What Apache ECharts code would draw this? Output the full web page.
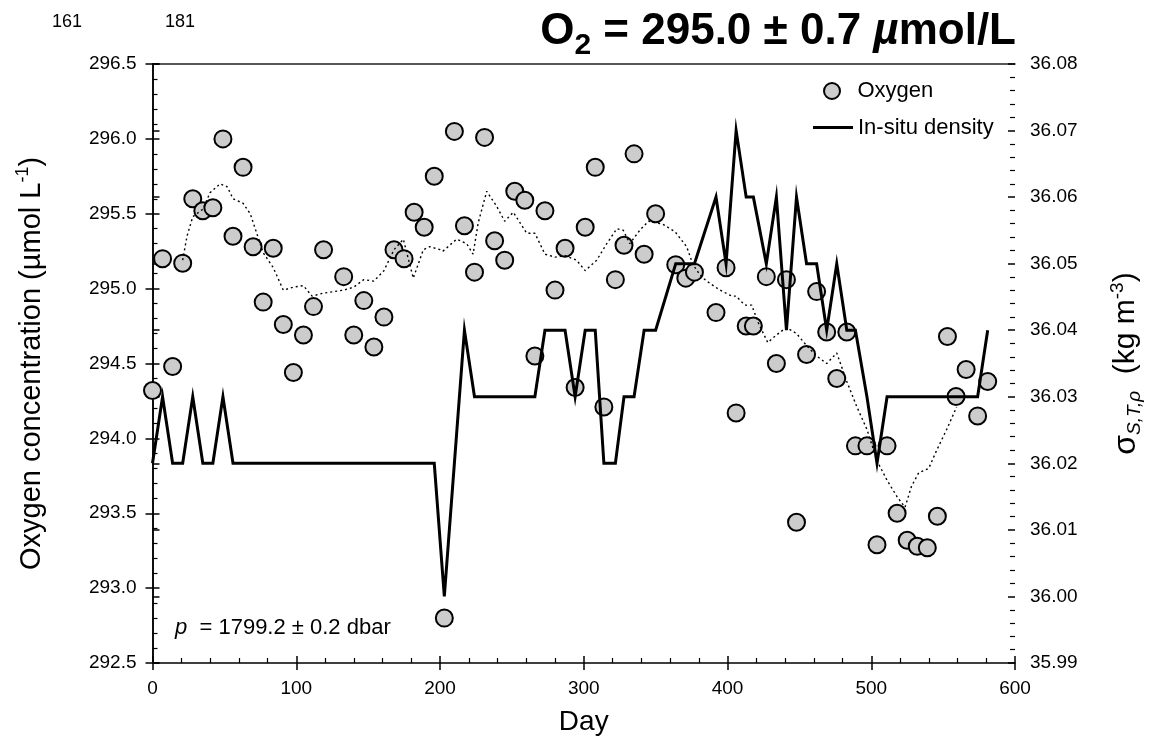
<!DOCTYPE html>
<html><head><meta charset="utf-8">
<script src="https://cdn.jsdelivr.net/npm/echarts@6/dist/echarts.min.js"></script>
<style>html,body{margin:0;padding:0;background:#fff}#c{width:1155px;height:747px}</style>
</head><body><div id="c"></div>
<script>
const FONT = '"Liberation Sans", Arial, sans-serif';

// Sampling days (shared by oxygen and density)
const days = [0,7,14,21,28,35,42,49,56,63,70,77,84,91,98,105,112,119,133,140,147,154,161,168,175,182,189,196,
  203,210,217,224,231,238,245,252,259,266,273,280,287,294,301,308,314,322,328,335,342,350,364,371,377,392,399,
  406,413,418,427,434,441,448,455,462,469,476,483,489,497,504,511,518,525,532,539,546,553,559,566,574,581];

// Oxygen concentration (µmol/L)
const oxygen = [294.32,295.20,294.48,295.17,295.60,295.52,295.54,296.00,295.35,295.81,295.28,294.91,295.27,294.76,294.44,294.69,294.88,295.26,295.08,294.69,294.92,294.61,294.81,295.26,295.20,295.51,295.41,295.75,
  292.80,296.05,295.42,295.11,296.01,295.32,295.19,295.65,295.59,294.55,295.52,294.99,295.27,294.34,295.41,295.81,294.21,295.06,295.29,295.90,295.23,295.50,295.16,295.07,295.11,294.84,295.14,
  294.17,294.75,294.75,295.08,294.50,295.06,293.44,294.56,294.98,294.71,294.40,294.71,293.95,293.95,293.29,293.95,293.50,293.32,293.28,293.27,293.48,294.68,294.28,294.46,294.15,294.38];

// In-situ density sigma (kg m^-3)
const density = [36.02,36.03,36.02,36.02,36.03,36.02,36.02,36.03,36.02,36.02,36.02,36.02,36.02,36.02,36.02,36.02,36.02,36.02,36.02,36.02,36.02,36.02,36.02,36.02,36.02,36.02,36.02,36.02,
  36.00,36.02,36.04,36.03,36.03,36.03,36.03,36.03,36.03,36.03,36.04,36.04,36.04,36.03,36.04,36.04,36.02,36.02,36.03,36.03,36.04,36.04,36.05,36.05,36.05,36.06,36.05,
  36.07,36.06,36.06,36.05,36.06,36.04,36.06,36.05,36.05,36.04,36.05,36.04,36.04,36.03,36.02,36.03,36.03,36.03,36.03,36.03,36.03,36.03,36.03,36.03,36.03,36.04];

// Smoothed oxygen (dotted line)
const smoothDays = [21,24,28,35,40,47,52,56,63,68,72.5,77,84,91,98,105,111,119,133,140,147,154,161,168,174.5,181.4,188.4,193,200,202,211.6,218.6,223,226.6,232.5,239.4,245,251,260.3,266,273,280,287,295,301,309,316,323,327.5,332,339,345,355,363.5,371.6,376,381,385.5,394.8,403,406,412,416.8,421.5,428,434,441,448,455,462,469,476,483,490,497,504,511,518,523.5,528,533,540,545.5,552.5,559.4];
const smoothOxygen = [295.19,295.35,295.48,295.53,295.64,295.70,295.68,295.60,295.57,295.50,295.37,295.24,295.14,294.99,295.01,295.02,294.95,294.97,294.99,295.01,295.06,295.05,295.12,295.26,295.33,295.07,295.26,295.28,295.26,295.25,295.33,295.30,295.23,295.44,295.65,295.55,295.45,295.51,295.37,295.37,295.23,295.21,295.22,295.19,295.12,295.19,295.30,295.40,295.39,295.30,295.39,295.45,295.43,295.38,295.28,295.16,295.09,295.05,294.99,294.95,294.95,294.89,294.89,294.77,294.64,294.69,294.74,294.70,294.62,294.55,294.50,294.57,294.38,294.21,294.06,293.85,293.72,293.61,293.54,293.68,293.77,293.80,293.92,294.06,294.21];

// Axis ranges
const xRange = {min: 0, max: 600, interval: 100};
const yLeftRange = {min: 292.5, max: 296.5, interval: 0.5};
const yRightRange = {min: 35.99, max: 36.08, interval: 0.01};

const pair = (xs, ys) => xs.map((x, i) => [x, ys[i]]);

const chart = echarts.init(document.getElementById('c'), null, {renderer: 'canvas'});
const black = '#000';
const tickFont = {fontFamily: FONT, fontSize: 19, color: black};

function baseX(extra) {
  return Object.assign({type: 'value', min: xRange.min, max: xRange.max, interval: xRange.interval, splitLine: {show: false}}, extra);
}
function baseYL(extra) {
  return Object.assign({type: 'value', min: yLeftRange.min, max: yLeftRange.max, interval: yLeftRange.interval, splitLine: {show: false}}, extra);
}
function baseYR(extra) {
  return Object.assign({type: 'value', min: yRightRange.min, max: yRightRange.max, interval: yRightRange.interval, splitLine: {show: false}}, extra);
}

chart.setOption({
  animation: false,
  backgroundColor: '#fff',
  title: {
    text: '{a|O}{s|2}{a| = 295.0 ± 0.7 }{i|µ}{a|mol/L}',
    right: 134, top: -2,
    textStyle: {
      rich: {
        a: {fontFamily: FONT, fontSize: 44, fontWeight: 'bold', color: black, lineHeight: 58, verticalAlign: 'middle'},
        i: {fontFamily: FONT, fontSize: 44, fontWeight: 'bold', fontStyle: 'italic', color: black, lineHeight: 58, verticalAlign: 'middle'},
        s: {fontFamily: FONT, fontSize: 30, fontWeight: 'bold', color: black, verticalAlign: 'bottom', lineHeight: 30}
      }
    }
  },
  grid: {left: 152.5, right: 140, top: 64, bottom: 84, outerBoundsMode: 'none', containLabel: false},
  legend: [
    {data: [{name: 'Oxygen', icon: 'circle'}], orient: 'vertical', left: 823, top: 80, padding: 0,
     itemWidth: 41, itemHeight: 16, textStyle: {fontFamily: FONT, fontSize: 22, color: black}},
    {data: [{name: 'In-situ density', icon: 'rect'}], orient: 'vertical', left: 813, top: 116.5, padding: 0,
     itemWidth: 40, itemHeight: 3, textStyle: {fontFamily: FONT, fontSize: 22, color: black}}
  ],
  xAxis: [
    baseX({position: 'bottom', axisLine: {lineStyle: {color: black, width: 1.5}},
      axisTick: {inside: false, length: 7, lineStyle: {color: black, width: 1.5}},
      axisLabel: Object.assign({margin: 16}, tickFont),
      name: 'Day', nameLocation: 'middle', nameGap: 45,
      nameTextStyle: {fontFamily: FONT, fontSize: 28, color: black}}),
    baseX({position: 'bottom', axisLine: {show: false},
      axisTick: {inside: true, length: 7, lineStyle: {color: black, width: 1.5}},
      minorTick: {show: true, splitNumber: 5, length: 5, lineStyle: {color: black, width: 1.2}},
      axisLabel: {show: false}}),
    baseX({position: 'top', axisLine: {lineStyle: {color: '#222', width: 1.5}}, axisTick: {show: false}, axisLabel: {show: false}})
  ],
  yAxis: [
    baseYL({position: 'left', axisLine: {lineStyle: {color: black, width: 1.5}},
      axisTick: {inside: false, length: 7, lineStyle: {color: black, width: 1.5}},
      axisLabel: Object.assign({margin: 16, formatter: v => v.toFixed(1)}, tickFont),
      name: '{a|Oxygen concentration (µmol L}{s|-1}{a|)}', nameLocation: 'middle', nameGap: 104, nameRotate: 90,
      nameTextStyle: {rich: {
        a: {fontFamily: FONT, fontSize: 29, color: black, lineHeight: 34, verticalAlign: 'middle'},
        s: {fontFamily: FONT, fontSize: 18, color: black, lineHeight: 18, verticalAlign: 'top'}
      }}}),
    baseYL({position: 'left', axisLine: {show: false},
      axisTick: {inside: true, length: 7, lineStyle: {color: black, width: 1.5}},
      minorTick: {show: true, splitNumber: 5, length: 5, lineStyle: {color: black, width: 1.2}},
      axisLabel: {show: false}}),
    baseYR({position: 'right', axisLine: {lineStyle: {color: black, width: 1.5}},
      axisTick: {inside: false, length: 7, lineStyle: {color: black, width: 1.5}},
      axisLabel: Object.assign({margin: 15, formatter: v => v.toFixed(2)}, tickFont),
      name: '{g|σ}{s|S,T,ρ}{a|  (kg m}{p|-3}{a|)}', nameLocation: 'middle', nameGap: 93, nameRotate: 90,
      nameTextStyle: {rich: {
        g: {fontFamily: FONT, fontSize: 32, color: black, lineHeight: 36, verticalAlign: 'middle'},
        a: {fontFamily: FONT, fontSize: 30, color: black, lineHeight: 36, verticalAlign: 'middle'},
        s: {fontFamily: FONT, fontSize: 19, fontStyle: 'italic', color: black, lineHeight: 19, verticalAlign: 'bottom'},
        p: {fontFamily: FONT, fontSize: 19, color: black, lineHeight: 19, verticalAlign: 'top'}
      }}}),
    baseYR({position: 'right', axisLine: {show: false},
      axisTick: {inside: true, length: 7, lineStyle: {color: black, width: 1.5}},
      minorTick: {show: true, splitNumber: 5, length: 5, lineStyle: {color: black, width: 1.2}},
      axisLabel: {show: false}})
  ],
  series: [
    {name: 'Oxygen', type: 'scatter', xAxisIndex: 0, yAxisIndex: 0, z: 2,
     data: pair(days, oxygen), symbol: 'circle', symbolSize: 17,
     itemStyle: {color: '#cccccc', borderColor: black, borderWidth: 2, opacity: 1}},
    {name: 'Smoothed', type: 'line', xAxisIndex: 0, yAxisIndex: 0, z: 3,
     data: pair(smoothDays, smoothOxygen), showSymbol: false, symbol: 'none',
     lineStyle: {color: black, width: 1.4, type: [2, 3]}},
    {name: 'In-situ density', type: 'line', xAxisIndex: 0, yAxisIndex: 2, z: 4,
     data: pair(days, density), showSymbol: false, symbol: 'none', color: black,
     itemStyle: {color: black},
     lineStyle: {color: black, width: 3, join: 'miter'}}
  ],
  graphic: [
    {type: 'text', left: 52, top: 13, style: {text: '161', font: '18px ' + FONT, fill: black}},
    {type: 'text', left: 165, top: 13, style: {text: '181', font: '18px ' + FONT, fill: black}},
    {type: 'text', left: 175, top: 617, style: {
      text: '{i|p}{a|  = 1799.2 ± 0.2 dbar}',
      rich: {i: {font: 'italic 22px ' + FONT, fill: black}, a: {font: '22px ' + FONT, fill: black}}}}
  ]
});
</script>
</body></html>
